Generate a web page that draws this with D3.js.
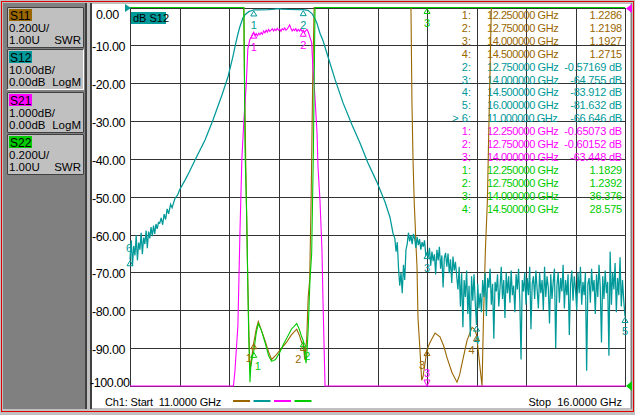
<!DOCTYPE html>
<html>
<head>
<meta charset="utf-8">
<script src="https://cdn.jsdelivr.net/npm/d3@7"></script>
<style>
html, body { margin: 0; padding: 0; background: #c0c0c0; }
svg { display: block; font-family: "Liberation Sans", Arial, sans-serif; }
</style>
</head>
<body>
<svg id="vna" width="635" height="415"></svg>
<script>
// sweep
const sweepStart = 11.0;
const sweepStop = 16.0;
const noiseStep = 0.0125;

// channel buttons
const traceNames = ['S11', 'S12', 'S21', 'S22'];
const traceScales = ['0.200U/', '10.00dB/', '1.000dB/', '0.200U/'];
const traceRefs = ['1.00U', '0.00dB', '0.00dB', '1.00U'];
const traceFormats = ['SWR', 'LogM', 'LogM', 'SWR'];

// S11 (SWR) [GHz, value]
const s11Points = [
  [11.0, 20], [12.0, 15], [12.15, 3.4], [12.156, 2.65], [12.168, 2.22], [12.18, 1.85],
  [12.19, 1.55], [12.2, 1.3], [12.212, 1.084], [12.23, 1.15], [12.245, 1.21], [12.25, 1.2286],
  [12.275, 1.30], [12.296, 1.34], [12.33, 1.29], [12.364, 1.24], [12.40, 1.18], [12.43, 1.14],
  [12.47, 1.16], [12.515, 1.19], [12.58, 1.23], [12.63, 1.27], [12.684, 1.30], [12.71, 1.27],
  [12.734, 1.23], [12.75, 1.2198], [12.765, 1.14], [12.785, 1.25], [12.80, 1.47], [12.815, 1.56],
  [12.83, 2.0], [12.845, 2.6], [12.86, 3.1], [13.3, 15], [13.8, 6], [13.838, 3.0], [13.848, 2.5],
  [13.859, 2.19], [13.872, 1.955], [13.879, 1.876], [13.889, 1.74], [13.899, 1.63], [13.909, 1.36],
  [13.929, 1.19], [13.946, 1.03], [13.96, 1.05], [13.98, 1.12], [14.0, 1.1927], [14.03, 1.23],
  [14.081, 1.28], [14.131, 1.26], [14.17, 1.21], [14.202, 1.15], [14.253, 1.07], [14.303, 1.02],
  [14.33, 1.06], [14.354, 1.12], [14.404, 1.24], [14.455, 1.31], [14.48, 1.30], [14.5, 1.2715],
  [14.535, 1.10], [14.556, 1.0], [14.57, 1.35], [14.59, 1.72], [14.61, 1.98], [14.63, 2.5],
  [14.65, 3.2], [15.0, 15], [16.0, 20]
];

// S12 (dB): noisy start, smooth skirts, noisy stopband
const s12LowStart = 11.0;
const s12Low = [
  -66.6, -61.5, -68.2, -63.0, -65.5, -60.2, -66.8, -62.1, -64.0, -59.5,
  -65.2, -60.8, -62.5, -58.9, -63.6, -59.2, -61.0, -58.0, -60.4, -57.6,
  -59.8, -57.2, -58.5, -56.8, -57.0
];
const s12Skirt = [
  [11.315, -55.6], [11.33, -57.4], [11.345, -54.6], [11.36, -56.0], [11.375, -53.2],
  [11.39, -54.5], [11.41, -52.0], [11.425, -52.9], [11.455, -50.4], [11.48, -49.6],
  [11.5, -48.2], [11.556, -45.6], [11.6, -43.4], [11.657, -40.3], [11.758, -35.0],
  [11.838, -29.7], [11.929, -23.1], [11.99, -18.3], [12.04, -12.9], [12.061, -10.3],
  [12.09, -7.0], [12.111, -5.0], [12.14, -2.8], [12.162, -1.9], [12.2, -1.1], [12.232, -0.8],
  [12.25, -0.65], [12.3, -0.6], [12.4, -0.55], [12.46, -0.45], [12.49, -0.3], [12.53, -0.4],
  [12.6, -0.5], [12.7, -0.55], [12.75, -0.57], [12.798, -0.75], [12.838, -1.6], [12.869, -3.0],
  [12.889, -4.2], [12.919, -6.8], [12.95, -8.8], [13.0, -13.0], [13.071, -19.0], [13.152, -25.2],
  [13.242, -31.0], [13.323, -35.8], [13.404, -41.1], [13.495, -46.2], [13.576, -51.4],
  [13.626, -55.4], [13.657, -59.7]
];
const s12HighStart = 13.675;
const s12High = [
  -61.0, -64.5, -62.0, -69.0, -73.5, -70.0, -75.5, -68.0, -72.0, -64.0, -62.5,
  -59.5, -61.8, -60.2, -62.5, -59.8, -61.0, -63.5, -60.6, -62.8, -61.2, -64.0, -62.0, -63.2, -61.5, -65.5, -64.8,
  -66.0, -63.5, -68.2, -64.5, -67.0, -65.2, -70.5, -64.0, -66.8, -63.2, -69.0, -65.5,
  -74.0, -66.2, -64.8, -68.5, -65.0, -70.2, -66.5, -72.8, -65.8, -69.5, -67.2, -71.0,
  -74.5, -68.5, -79.0, -70.2, -84.5, -72.0, -76.5, -69.5, -81.0, -73.5,
  -87.0, -71.0, -77.5, -70.5, -78.0, -83.9, -73.0, -79.5, -75.5, -80.5,
  -72.0, -76.5, -70.0, -81.5, -71.5, -74.0, -69.0, -78.5, -73.0, -87.5,
  -72.5, -75.0, -70.5, -79.0, -74.0, -68.5, -77.0, -72.0, -82.0, -70.0,
  -75.5, -71.0, -78.0, -69.5, -76.0, -73.5, -80.5, -70.5, -74.5, -69.0,
  -77.5, -93.0, -72.0, -75.0, -70.0, -78.5, -71.5, -76.0, -68.5, -85.0,
  -73.0, -71.0, -77.0, -69.5, -74.5, -79.5, -70.0, -75.5, -72.0, -80.0,
  -68.5, -76.5, -71.0, -74.0, -83.5, -70.5, -77.0, -72.5, -69.0, -90.0,
  -73.5, -70.0, -78.0, -71.5, -75.0, -68.0, -79.5, -72.0, -76.0, -70.5,
  -86.5, -73.0, -69.5, -77.5, -71.0, -74.5, -80.0, -70.0, -75.5, -68.5,
  -78.5, -72.5, -76.0, -70.0, -96.0, -73.0, -71.5, -78.0, -69.0, -75.0,
  -72.0, -81.0, -70.5, -76.5, -68.0, -74.0, -88.5, -71.0, -77.0, -69.5,
  -75.5, -72.5, -92.0, -64.5, -78.5, -70.0, -74.5, -67.5, -80.5, -71.5,
  -76.0, -66.0, -79.0, -72.0, -77.5, -81.6
];

// S21 (dB, 1 dB/div)
const s21Lower = [
  [11.0, -70], [11.8, -40], [12.0, -15], [12.045, -10.3], [12.06, -9.6], [12.09, -8.4],
  [12.11, -6.0], [12.13, -4.0], [12.15, -3.0], [12.175, -2.0], [12.19, -1.1], [12.21, -0.85]
];
const s21PassStart = 12.225;
const s21Pass = [
  -0.78, -0.70, -0.65, -0.74, -0.69, -0.75, -0.68, -0.72, -0.66, -0.71,
  -0.62, -0.67, -0.60, -0.65, -0.58, -0.63, -0.60, -0.56, -0.62, -0.57,
  -0.61, -0.55, -0.60, -0.57, -0.63, -0.56, -0.59, -0.54, -0.60, -0.57,
  -0.52, -0.46, -0.55, -0.62, -0.57, -0.61, -0.56, -0.63, -0.58, -0.62,
  -0.57, -0.63, -0.60, -0.66, -0.61, -0.58, -0.64
];
const s21Upper = [
  [12.835, -0.93], [12.848, -1.6], [12.869, -2.4], [12.889, -3.3], [12.899, -4.2],
  [12.919, -5.1], [12.939, -6.4], [12.949, -7.7], [12.97, -10.2], [13.2, -30],
  [14.0, -63.4], [16.0, -75]
];

// S22 (SWR)
const s22Points = [
  [11.0, 40], [12.0, 30], [12.15, 3.4], [12.155, 2.68], [12.162, 2.25], [12.179, 1.89],
  [12.189, 1.56], [12.2, 1.25], [12.212, 1.02], [12.22, 1.1], [12.235, 1.15], [12.25, 1.1829],
  [12.275, 1.28], [12.296, 1.33], [12.33, 1.29], [12.364, 1.23], [12.40, 1.16], [12.43, 1.13],
  [12.47, 1.14], [12.515, 1.18], [12.55, 1.22], [12.58, 1.25], [12.63, 1.30], [12.684, 1.33],
  [12.71, 1.30], [12.734, 1.26], [12.75, 1.2392], [12.765, 1.17], [12.778, 1.12], [12.79, 1.2],
  [12.8, 1.30], [12.818, 1.56], [12.835, 1.7], [12.852, 2.23], [12.869, 3.0], [12.9, 6.0],
  [13.5, 30], [14.0, 36.376], [14.5, 28.575], [16.0, 25]
];

// markers [number, GHz, value, listed in table, drawn on trace]
const s11Markers = [[1, 12.25, 1.2286, 1, 1], [2, 12.75, 1.2198, 1, 1], [3, 14.0, 1.1927, 1, 1], [4, 14.5, 1.2715, 1, 1]];
const s12Markers = [[1, 12.25, -0.65, 0, 1], [2, 12.75, -0.57169, 1, 1], [3, 14.0, -64.755, 1, 1],
  [4, 14.5, -83.912, 1, 1], [5, 16.0, -81.632, 1, 1], [6, 11.0, -66.646, 1, 1]];
const s21Markers = [[1, 12.25, -0.65073, 1, 1], [2, 12.75, -0.60152, 1, 1], [3, 14.0, -63.448, 1, 1]];
const s22Markers = [[1, 12.25, 1.1829, 1, 1], [2, 12.75, 1.2392, 1, 1], [3, 14.0, 36.376, 1, 1], [4, 14.5, 28.575, 1, 0]];
const activeMarker = 6;

const colors = { S11: '#996600', S12: '#009999', S21: '#ff00ff', S22: '#00cc00' };
// small sideways nudge of marker numbers so stacked markers stay readable
const labelNudge = { S11: -5, S12: 0, S21: 0, S22: 4 };

const svg = d3.select('#vna');

// window frame
svg.append('rect').attr('width', 635).attr('height', 415).attr('fill', '#c0c0c0');
svg.append('rect').attr('x', 3).attr('y', 3).attr('width', 82).attr('height', 406).attr('fill', '#808080');
svg.append('rect').attr('x', 85).attr('y', 3).attr('width', 2).attr('height', 406).attr('fill', '#404040');
svg.append('rect').attr('x', 90).attr('y', 3).attr('width', 2).attr('height', 406).attr('fill', '#404040');
svg.append('rect').attr('x', 92).attr('y', 4).attr('width', 538).attr('height', 404).attr('fill', '#ffffff');
svg.append('line').attr('x1', 631.5).attr('x2', 631.5).attr('y1', 3).attr('y2', 409).attr('stroke', '#808080');
svg.append('rect').attr('x', 1.5).attr('y', 1.5).attr('width', 632).attr('height', 410)
  .attr('fill', 'none').attr('stroke', '#e00000');

// channel buttons
traceNames.forEach((name, i) => {
  const top = Math.round(7 + i * 42.3);
  const g = svg.append('g').attr('transform', `translate(7,${top})`);
  g.append('rect').attr('width', 77).attr('height', 41).attr('fill', '#c0c0c0');
  g.append('path').attr('d', 'M0.5,40.5V0.5H76.5').attr('fill', 'none').attr('stroke', '#404040');
  g.append('path').attr('d', 'M0.5,40.5H76.5V0.5').attr('fill', 'none')
    .attr('stroke', name === 'S12' ? '#ffffff' : '#404040');
  g.append('rect').attr('x', 2).attr('y', 2).attr('width', 23).attr('height', 12).attr('fill', colors[name]);
  g.append('text').attr('x', 3).attr('y', 13).attr('font-size', '12px').text(name);
  g.append('text').attr('x', 2).attr('y', 25).attr('font-size', '11.5px').text(traceScales[i]);
  g.append('text').attr('x', 2).attr('y', 37).attr('font-size', '11.5px').text(traceRefs[i]);
  g.append('text').attr('x', 74).attr('y', 37).attr('font-size', '11.5px')
    .attr('text-anchor', 'end').text(traceFormats[i]);
});

// scales
const yTop = 7.5, yBot = 386;
const x = d3.scaleLinear().domain([sweepStart, sweepStop]).range([130, 625]);
const yScales = {
  S11: d3.scaleLinear().domain([1, 3]).range([yBot, yTop]),
  S12: d3.scaleLinear().domain([-100, 0]).range([yBot, yTop]),
  S21: d3.scaleLinear().domain([-10, 0]).range([yBot, yTop]),
  S22: d3.scaleLinear().domain([1, 3]).range([yBot, yTop])
};

// grid
const plot = svg.append('g');
const xTicks = x.ticks(10);
const yTicks = yScales.S12.ticks(10);
plot.selectAll('.vgrid').data(xTicks).enter().append('line')
  .attr('x1', d => Math.round(x(d)) + 0.5).attr('x2', d => Math.round(x(d)) + 0.5)
  .attr('y1', yTop).attr('y2', yBot)
  .attr('stroke', '#333').attr('shape-rendering', 'crispEdges');
plot.selectAll('.hgrid').data(yTicks).enter().append('line')
  .attr('x1', 130).attr('x2', 626)
  .attr('y1', d => Math.round(yScales.S12(d)) + 0.5).attr('y2', d => Math.round(yScales.S12(d)) + 0.5)
  .attr('stroke', '#333').attr('shape-rendering', 'crispEdges');

// dB axis labels
const yAxis = d3.axisLeft(yScales.S12).tickValues(yTicks).tickSize(0).tickFormat(d => d.toFixed(2));
const axisG = svg.append('g').attr('transform', 'translate(130,0)').call(yAxis);
axisG.select('.domain').remove();
axisG.selectAll('text')
  .attr('text-anchor', 'start')
  .attr('font-family', '"Liberation Sans", Arial, sans-serif')
  .attr('font-size', '12.5px')
  .attr('letter-spacing', '-0.4px')
  .attr('fill', '#000')
  .attr('x', d => d === 0 ? -34 : (d === -100 ? -40 : -38))
  .attr('y', d => d === 0 ? 7 : (d === -100 ? -4 : 1.5));

// marker table
const tableRows = [];
[['S11', s11Markers], ['S12', s12Markers], ['S21', s21Markers], ['S22', s22Markers]].forEach(([name, list]) => {
  list.filter(m => m[3]).forEach(m => tableRows.push({ name, m }));
});
const rowY = i => 19 + i * 12.9;
const table = svg.append('g').attr('font-size', '11px');
tableRows.forEach((r, i) => {
  const isLog = r.name === 'S12' || r.name === 'S21';
  const active = r.name === 'S12' && r.m[0] === activeMarker;
  table.append('text').attr('x', 471).attr('y', rowY(i)).attr('text-anchor', 'end')
    .attr('fill', colors[r.name]).style('white-space', 'pre')
    .text((active ? '> ' : '') + r.m[0] + ':');
  table.append('text').attr('x', 487).attr('y', rowY(i)).attr('letter-spacing', '-0.45px')
    .attr('fill', colors[r.name]).text(r.m[1].toFixed(6) + ' GHz');
  table.append('text').attr('x', 622).attr('y', rowY(i)).attr('text-anchor', 'end')
    .attr('letter-spacing', '-0.2px')
    .attr('fill', colors[r.name]).text(String(r.m[2]) + (isLog ? ' dB' : ''));
});

// active trace tag
svg.append('rect').attr('x', 131).attr('y', 12).attr('width', 35).attr('height', 12).attr('fill', colors.S12);
svg.append('text').attr('x', 133).attr('y', 22).attr('font-size', '11px').text('dB S12');

// build traces
const gridSeries = (start, values) => values.map((v, i) => [start + i * noiseStep, v]);
const traces = {
  S11: s11Points,
  S12: gridSeries(s12LowStart, s12Low).concat(s12Skirt, gridSeries(s12HighStart, s12High))
    .filter(d => d[0] <= sweepStop + 1e-6),
  S21: s21Lower.concat(gridSeries(s21PassStart, s21Pass), s21Upper),
  S22: s22Points
};

traceNames.forEach(name => {
  const ys = yScales[name];
  const line = d3.line()
    .x(d => x(d[0]))
    .y(d => Math.max(yTop, Math.min(yBot, ys(d[1]))));
  svg.append('path')
    .datum(traces[name].slice().sort((a, b) => a[0] - b[0]))
    .attr('d', line)
    .attr('fill', 'none')
    .attr('stroke', colors[name])
    .attr('stroke-width', name === 'S12' ? 1.25 : 1.1);
});

// marker glyphs
const markerSets = { S11: s11Markers, S12: s12Markers, S21: s21Markers, S22: s22Markers };
traceNames.forEach(name => {
  const ys = yScales[name];
  const g = svg.append('g').attr('font-size', '11px').attr('fill', colors[name]);
  markerSets[name].filter(m => m[4]).forEach(m => {
    const px = x(m[1]);
    const raw = ys(m[2]);
    let tri, ly;
    if (raw > yBot) {
      tri = [[px, yBot], [px - 3, yBot - 6], [px + 3, yBot - 6]];
      ly = yBot - 9;
    } else {
      const py = Math.max(yTop, raw);
      tri = [[px, py + 1], [px - 3, py + 6], [px + 3, py + 6]];
      ly = py + 19;
    }
    const active = name === 'S12' && m[0] === activeMarker;
    if (active) ly = raw - 8;
    const inBand = raw <= yBot && raw >= yTop;
    g.append('path').attr('d', 'M' + tri.join('L') + 'Z')
      .attr('fill', 'none').attr('stroke', colors[name]);
    g.append('text').attr('x', active ? px - 1 : px + (inBand ? labelNudge[name] : 0)).attr('y', ly)
      .attr('text-anchor', 'middle').text(m[0]);
  });
});

// reference position indicators
const refTri = (pts, c) => svg.append('path').attr('d', 'M' + pts.join('L') + 'Z').attr('fill', c);
refTri([[125, 4], [125, 12], [131, 8]], colors.S12);
refTri([[632, 4], [632, 13], [626, 8.5]], colors.S21);
refTri([[632, 381], [632, 391], [626, 386]], colors.S22);

// status line
svg.append('text').attr('x', 105).attr('y', 406).attr('font-size', '11px').attr('letter-spacing', '-0.15px')
  .style('white-space', 'pre')
  .text('Ch1: Start  ' + sweepStart.toFixed(4) + ' GHz');
svg.append('text').attr('x', 622).attr('y', 406).attr('font-size', '11px').attr('text-anchor', 'end')
  .style('white-space', 'pre').text('Stop  ' + sweepStop.toFixed(4) + ' GHz');
traceNames.forEach((name, i) => {
  svg.append('line').attr('x1', 233 + i * 20.5).attr('x2', 250 + i * 20.5)
    .attr('y1', 401).attr('y2', 401).attr('stroke', colors[name]).attr('stroke-width', 2);
});
</script>
</body>
</html>
